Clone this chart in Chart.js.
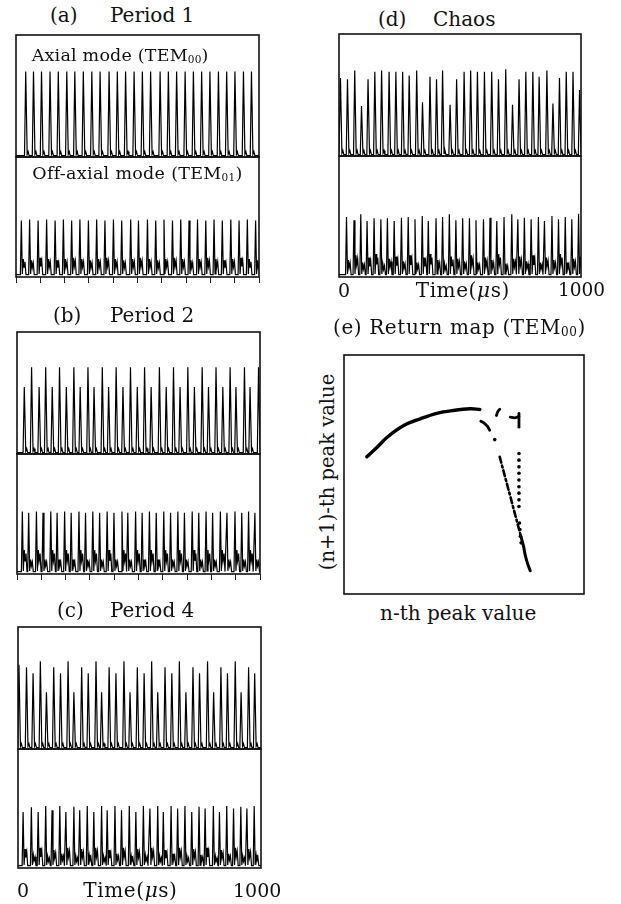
<!DOCTYPE html>
<html><head><meta charset="utf-8">
<script src="https://cdn.jsdelivr.net/npm/chart.js@4.4.1/dist/chart.umd.min.js"></script>
<style>
html,body{margin:0;padding:0;background:#fff;}
#fig{position:relative;width:621px;height:904px;overflow:hidden;font-family:"DejaVu Serif",serif;color:#111;}
.t{position:absolute;white-space:nowrap;line-height:1;}
.t sub{font-size:0.6em;vertical-align:-0.18em;line-height:0;}
canvas{position:absolute;}
</style></head><body><div id="fig"></div>
<script>
// ---------- shared ----------
const timeTicks = [0,100,200,300,400,500,600,700,800,900,1000];

// ---------- (a) Period 1 ----------
const aAxialT = [40,72,105,140,174,209,242,277,312,346,383,417,451,486,520,554,593,627,661,696,730,764,798,833,867,901,936,969];
const aAxialH = [0.70,0.70,0.70,0.70,0.70,0.70,0.70,0.70,0.70,0.70,0.70,0.70,0.70,0.70,0.70,0.70,0.70,0.70,0.70,0.70,0.70,0.70,0.70,0.70,0.70,0.70,0.70,0.70];
const aOffT = [22,56,91,126,161,195,229,263,298,332,366,401,435,472,504,541,575,609,644,678,712,747,781,815,849,884,918,952,986];
const aOffH = [0.47,0.48,0.47,0.48,0.47,0.48,0.47,0.48,0.47,0.48,0.47,0.48,0.47,0.48,0.47,0.48,0.47,0.48,0.47,0.48,0.47,0.48,0.47,0.48,0.47,0.48,0.47,0.48,0.47];
const aOffBump = [0.15,0.14,0.16,0.15,0.14,0.15,0.16,0.15,0.14,0.15,0.16,0.15,0.14,0.15,0.16,0.15,0.14,0.15,0.16,0.15,0.14,0.15,0.16,0.15,0.14,0.15,0.16,0.15,0.14];

// ---------- (b) Period 2 ----------
const bAxialT = [30,60,91,118,145,175,203,234,260,292,317,351,377,408,436,467,495,525,552,586,614,644,671,703,730,762,788,819,847,877,901,936,959,994];
const bAxialH = [0.55,0.71,0.55,0.71,0.55,0.71,0.55,0.71,0.55,0.71,0.55,0.71,0.55,0.71,0.55,0.71,0.55,0.71,0.55,0.71,0.55,0.71,0.55,0.71,0.55,0.71,0.55,0.71,0.55,0.71,0.55,0.71,0.55,0.71];
const bOffT = [22,48,80,107,139,165,196,223,255,282,312,340,371,399,432,456,488,515,545,573,604,632,662,689,721,748,778,805,837,864,897,925,953,979];
const bOffH = [0.52,0.51,0.52,0.51,0.52,0.51,0.52,0.51,0.52,0.51,0.52,0.51,0.52,0.51,0.52,0.51,0.52,0.51,0.52,0.51,0.52,0.51,0.52,0.51,0.52,0.51,0.52,0.51,0.52,0.51,0.52,0.51,0.52,0.51];
const bOffBump = [0.20,0.12,0.20,0.12,0.20,0.12,0.20,0.12,0.20,0.12,0.20,0.12,0.20,0.12,0.20,0.12,0.20,0.12,0.20,0.12,0.20,0.12,0.20,0.12,0.20,0.12,0.20,0.12,0.20,0.12,0.20,0.12,0.20,0.12];

// ---------- (c) Period 4 ----------
const cAxialT = [4,35,62,92,117,147,175,206,230,262,289,321,344,375,403,436,461,491,519,550,575,605,633,664,691,720,747,780,805,835,862,894,918,949,974];
const cAxialH = [0.69,0.67,0.62,0.72,0.465,0.67,0.62,0.72,0.465,0.67,0.62,0.72,0.465,0.67,0.62,0.72,0.465,0.67,0.62,0.72,0.465,0.67,0.62,0.72,0.465,0.67,0.62,0.72,0.465,0.67,0.62,0.72,0.465,0.67,0.62];
const cOffT = [21,55,83,114,140,172,197,230,254,285,312,344,367,399,426,458,485,516,543,575,598,630,657,687,715,745,770,804,829,859,887,917,942,972];
const cOffH = [0.47,0.51,0.47,0.52,0.486,0.52,0.47,0.515,0.486,0.52,0.47,0.52,0.486,0.52,0.486,0.52,0.47,0.52,0.50,0.52,0.47,0.52,0.50,0.52,0.47,0.515,0.50,0.52,0.47,0.52,0.50,0.515,0.50,0.52];
const cOffBump = [0.16,0.11,0.17,0.10,0.15,0.12,0.17,0.10,0.16,0.11,0.17,0.10,0.15,0.12,0.17,0.10,0.16,0.11,0.17,0.10,0.15,0.12,0.17,0.10,0.16,0.11,0.17,0.10,0.15,0.12,0.17,0.10,0.16,0.11];

// ---------- (d) Chaos ----------
const dAxialT = [6,35,65,93,120,148,176,207,235,263,290,321,345,376,403,428,459,486,517,544,572,601,631,659,689,717,744,772,801,827,859,884,911,939,967,994];
const dAxialH = [0.64,0.63,0.70,0.41,0.63,0.69,0.70,0.69,0.69,0.69,0.66,0.70,0.44,0.65,0.63,0.70,0.42,0.63,0.69,0.70,0.69,0.69,0.69,0.63,0.71,0.42,0.63,0.69,0.69,0.65,0.70,0.43,0.64,0.69,0.69,0.54];
const dOffT = [31,62,90,116,145,173,200,228,258,286,314,344,369,401,428,456,483,511,539,566,597,624,652,682,714,739,766,794,824,849,880,907,935,962,990];
const dOffH = [0.496,0.468,0.518,0.463,0.485,0.477,0.485,0.463,0.49,0.496,0.477,0.504,0.463,0.485,0.496,0.518,0.468,0.485,0.485,0.468,0.477,0.49,0.463,0.496,0.518,0.477,0.49,0.477,0.496,0.463,0.504,0.477,0.496,0.477,0.523];
const dOffBump = [0.14,0.18,0.12,0.16,0.19,0.11,0.15,0.17,0.13,0.18,0.12,0.16,0.19,0.14,0.11,0.17,0.15,0.13,0.18,0.12,0.16,0.14,0.19,0.11,0.15,0.17,0.13,0.18,0.12,0.16,0.14,0.19,0.12,0.15,0.17];

// ---------- (e) Return map (TEM00) ----------
const mapArcX = [0.095,0.139,0.181,0.249,0.318,0.387,0.456,0.525,0.566];
const mapArcY = [0.574,0.615,0.657,0.705,0.733,0.756,0.768,0.775,0.772];
const mapHookX = [0.570,0.584,0.598,0.607];
const mapHookY = [0.723,0.715,0.701,0.685];
const mapDashX = [0.635,0.642,0.649];
const mapDashY = [0.747,0.765,0.773];
const mapBarX = [0.693,0.711,0.729];
const mapBarY = [0.740,0.737,0.743];
const mapStemX = [0.729,0.729,0.729];
const mapStemY = [0.756,0.719,0.698];
const mapDotsX = [0.628,0.729,0.729,0.729,0.729,0.729,0.729,0.729,0.729,0.729,0.731,0.733,0.735,0.738];
const mapDotsY = [0.646,0.588,0.560,0.532,0.505,0.477,0.449,0.422,0.394,0.366,0.297,0.270,0.242,0.214];
const mapBranchX = [0.649,0.660,0.671,0.682,0.693,0.704,0.715,0.726,0.737];
const mapBranchY = [0.574,0.532,0.491,0.449,0.408,0.366,0.325,0.283,0.242];
const mapTailX = [0.737,0.748,0.756,0.766,0.776];
const mapTailY = [0.242,0.200,0.159,0.124,0.097];

// ---------- builders ----------
const BASE = 0.012;
function axialTrace(times, heights){
  const pts=[];
  if (times[0]-5 > 0) pts.push({x:0,y:BASE});
  times.forEach((t,i)=>{
    pts.push({x:t-5,y:BASE},{x:t,y:heights[i]},{x:t+6,y:BASE+0.01},{x:t+10,y:0.045},{x:t+14,y:BASE});
  });
  pts.push({x:1000,y:BASE});
  return pts;
}
function offTrace(times, heights, bumps){
  const pts=[];
  if (times[0]-4 > 0) pts.push({x:0,y:0.02});
  times.forEach((t,i)=>{
    const b=bumps[i];
    pts.push({x:t-4,y:0.02},{x:t,y:heights[i]},{x:t+4,y:0.025},{x:t+8,y:b},{x:t+11,y:b*0.55},{x:t+15,y:b*0.85},{x:t+19,y:0.02});
  });
  pts.push({x:1000,y:0.02});
  return pts;
}
function xy(xs, ys){ return xs.map((x,i)=>({x, y:ys[i]})); }

const framePlugin = {id:'frame', afterDatasetsDraw(chart){
  const {ctx, chartArea:a}=chart; ctx.save(); ctx.strokeStyle='#111'; ctx.lineWidth=1.6;
  ctx.strokeRect(a.left,a.top,a.right-a.left,a.bottom-a.top); ctx.restore(); }};

const fig = document.getElementById('fig');
function makeCanvas(L,T,R,B,extraB){
  const pad=3; const c=document.createElement('canvas');
  const w=Math.round(R-L+2*pad), h=Math.round(B-T+2*pad+extraB);
  c.width=w; c.height=h; c.style.width=w+'px'; c.style.height=h+'px';
  c.style.left=(L-pad)+'px'; c.style.top=(T-pad)+'px';
  fig.appendChild(c); return c;
}
function traceChart(L,T,R,B,points,withTicks){
  const c=makeCanvas(L,T,R,B,withTicks?7:0);
  const xScale={type:'linear',min:0,max:1000,display:!!withTicks,
           grid:{drawOnChartArea:false,drawTicks:true,tickLength:6,color:'#222',lineWidth:1},
           border:{display:false},ticks:{display:false}};
  if(withTicks){
    xScale.afterBuildTicks=s=>{s.ticks=timeTicks.map(v=>({value:v}));};
    xScale.afterFit=s=>{s.height=7;};
  }
  return new Chart(c,{type:'line',
    data:{datasets:[{data:points,borderColor:'#000',borderWidth:1.2,pointRadius:0,tension:0,fill:false}]},
    options:{responsive:false,maintainAspectRatio:false,animation:false,layout:{padding:3},
      plugins:{legend:{display:false},tooltip:{enabled:false}},
      scales:{x:xScale,y:{min:0,max:1,display:false}}},
    plugins:[framePlugin]});
}

// (a)
traceChart(15.5,35,258.5,157,axialTrace(aAxialT,aAxialH),false);
traceChart(15.5,157,258.5,277,offTrace(aOffT,aOffH,aOffBump),true);
// (b)
traceChart(17.3,332,260.7,454,axialTrace(bAxialT,bAxialH),false);
traceChart(17.3,454,260.7,574,offTrace(bOffT,bOffH,bOffBump),true);
// (c)
traceChart(18,627,261,749,axialTrace(cAxialT,cAxialH),false);
traceChart(18,749,261,868,offTrace(cOffT,cOffH,cOffBump),false);
// (d)
traceChart(339.3,34,581,155.5,axialTrace(dAxialT,dAxialH),false);
traceChart(339.3,155.5,581,276,offTrace(dOffT,dOffH,dOffBump),false);

// (e) return map
(function(){
  const c=makeCanvas(343,354,585,595,0);
  const ln=(d,w,dash)=>({type:'line',data:d,borderColor:'#000',borderWidth:w,borderDash:dash||[],pointRadius:0,tension:0.35,fill:false,showLine:true,borderCapStyle:'round'});
  new Chart(c,{type:'scatter',
    data:{datasets:[
      ln(xy(mapArcX,mapArcY),3.4),
      ln(xy(mapHookX,mapHookY),2.8),
      ln(xy(mapDashX,mapDashY),2.8),
      ln(xy(mapBarX,mapBarY),2.8),
      ln(xy(mapStemX,mapStemY),2.8),
      ln(xy(mapBranchX,mapBranchY),2.6,[6,3,2,3]),
      ln(xy(mapTailX,mapTailY),3.0),
      {type:'scatter',data:xy(mapDotsX,mapDotsY),pointRadius:1.8,pointBackgroundColor:'#000',pointBorderWidth:0}
    ]},
    options:{responsive:false,maintainAspectRatio:false,animation:false,layout:{padding:3},
      plugins:{legend:{display:false},tooltip:{enabled:false}},
      scales:{x:{type:'linear',min:0,max:1,display:false},y:{min:0,max:1,display:false}}},
    plugins:[framePlugin]});
})();

// ---------- text ----------
function txt(html,left,baseline,size,style){
  const d=document.createElement('div'); d.className='t'; d.innerHTML=html;
  d.style.fontSize=size+'px'; d.style.left=left+'px'; d.style.top=(baseline-0.846*size)+'px';
  if(style) Object.assign(d.style,style);
  fig.appendChild(d); return d;
}
txt('(a)',50,22.3,20); txt('Period 1',110,22.3,20);
txt('(b)',53,321.7,20); txt('Period 2',110,321.7,20);
txt('(c)',57,617.3,20); txt('Period 4',110,617.3,20);
txt('(d)',378,26,20); txt('Chaos',433,26,20);
txt('(e) Return map (TEM<sub>00</sub>)',333,334.3,20,{letterSpacing:'0.6px'});
txt('Axial mode (TEM<sub>00</sub>)',31.7,61.7,17.5,{letterSpacing:'0.2px'});
txt('Off-axial mode (TEM<sub>01</sub>)',32.3,180.3,17.5,{letterSpacing:'0.3px'});
txt('0',17,896.7,19); txt('Time(<i>μ</i>s)',83.3,896.7,20,{letterSpacing:'0.6px'}); txt('1000',233,896.7,19);
txt('0',338,296.7,19); txt('Time(<i>μ</i>s)',415.7,296.7,20,{letterSpacing:'0.6px'}); txt('1000',558,296.7,18.5);
txt('n-th peak value',380,620,20);
const yl=document.createElement('div'); yl.className='t'; yl.innerHTML='(n+1)-th peak value';
Object.assign(yl.style,{fontSize:'19.5px',left:'328px',top:'471.5px',transform:'translate(-50%,-50%) rotate(-90deg)'});
fig.appendChild(yl);
</script></body></html>
